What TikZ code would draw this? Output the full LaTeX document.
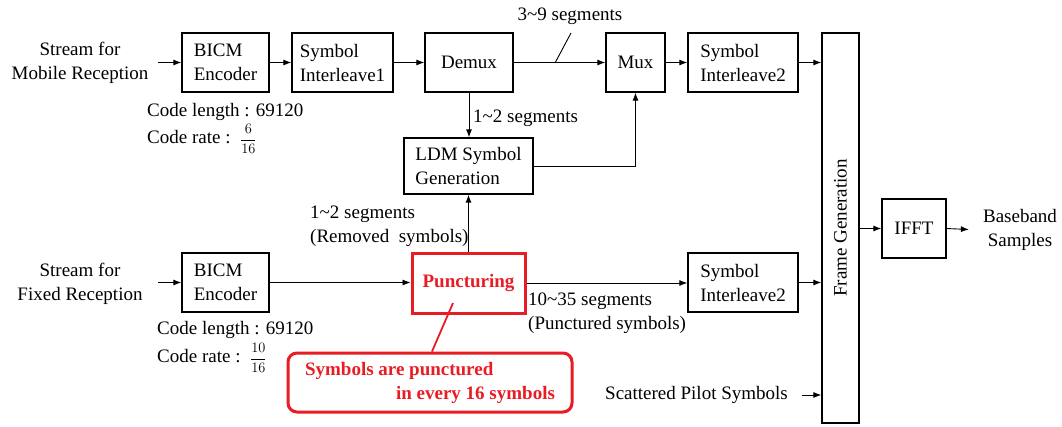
\documentclass[tikz,border=0pt]{standalone}
\usepackage{fontspec}
\setmainfont{Liberation Serif}
\usetikzlibrary{arrows.meta,calc}
\definecolor{hl}{RGB}{232,28,36}
\newcommand{\myfs}{\fontsize{19}{24}\selectfont}
\newcommand{\myfrac}[2]{{\fontsize{15}{15}\selectfont$\displaystyle\frac{#1}{#2}$}}
\begin{document}
\begin{tikzpicture}[x=1pt,y=-1pt,
  every node/.style={font=\myfs, inner sep=0pt},
  box/.style={draw, line width=1.3pt, minimum height=59pt},
  redbox/.style={draw=hl, line width=3pt, text=hl, font=\myfs\bfseries},
  arr/.style={line width=0.9pt, -{Latex[length=8pt,width=6pt]}},
  ln/.style={line width=0.9pt}]
\useasboundingbox (0,0) rectangle (1062,426);
% top row
\node[align=center] (in1) at (80,63) {Stream for\\Mobile Reception};
\node[box, align=left, minimum width=87pt] (bicm1) at (225.5,62.5) {BICM\\Encoder};
\node[box, align=left, minimum width=101pt] (si1) at (342.5,62.5) {Symbol\\Interleave1};
\node[box, minimum width=88pt] (demux) at (469,62.5) {Demux};
\node[box, minimum width=59pt] (mux) at (635.5,62.5) {Mux};
\node[box, align=left, minimum width=110pt] (si2a) at (743,62.5) {Symbol\\Interleave2};
\node[box, minimum width=37pt, minimum height=390pt] (frame) at (840.5,228) {};
\node[rotate=90] (framelbl) at (frame.center) {Frame Generation};
\node[box, minimum width=64pt] (ifft) at (914,228.5) {IFFT};
\node[align=center] (out) at (1020,229.5) {Baseband\\Samples};
\node[box, align=left, minimum width=129pt, minimum height=56pt] (ldm) at (468.5,166) {LDM Symbol\\Generation};
% bottom row
\node[align=center] (in2) at (80,283.5) {Stream for\\Fixed Reception};
\node[box, align=left, minimum width=87pt] (bicm2) at (225.5,282.5) {BICM\\Encoder};
\node[redbox, minimum width=113pt, minimum height=60pt] (punct) at (468.5,283) {Puncturing};
\node[box, align=left, minimum width=110pt] (si2b) at (743,282.5) {Symbol\\Interleave2};
\node[redbox, rounded corners=9pt, minimum width=284pt, minimum height=59pt, align=left] (callout) at (430,382.5) {Symbols are punctured\\\hspace*{91pt}in every 16 symbols};
% labels
\node[anchor=west] (cl1) at (147,112) {Code length : 69120};
\node[anchor=west] (cr1) at (147,139) {Code rate :\hspace{0.5em}\myfrac{6}{16}};
\node[anchor=west] (cl2) at (157,330) {Code length : 69120};
\node[anchor=west] (cr2) at (157,358) {Code rate :\hspace{0.5em}\myfrac{10}{16}};
\node[anchor=west] (lbl12) at (473,118) {1\textasciitilde2 segments};
\node[anchor=west, align=left] (lblrem) at (310,226.5) {1\textasciitilde2 segments\\(Removed\ \ symbols)};
\node[anchor=west, align=left] (lblpun) at (528,313) {10\textasciitilde35 segments\\(Punctured symbols)};
\node (lbl39) at (570,16) {3\textasciitilde9 segments};
\node[anchor=east] (pilot) at (788,395) {Scattered Pilot Symbols};
% connectors
\draw[arr] ([xshift=-23pt]bicm1.west) -- (bicm1.west);
\draw[arr] (bicm1) -- (si1);
\draw[arr] (si1) -- (demux);
\draw[arr] (demux) -- (mux);
\coordinate (sl1) at (555,63);
\coordinate (sl2) at (571,33);
\draw[ln] (sl1) -- (sl2);
\draw[arr] (mux) -- (si2a);
\draw[arr] (si2a.east) -- (si2a.east -| frame.west);
\draw[arr] (demux.south) -- (demux.south |- ldm.north);
\draw[arr] (ldm.east) -| (mux.south);
\draw[arr] (punct.north) -- (punct.north |- ldm.south);
\draw[arr] ([xshift=-23pt]bicm2.west) -- (bicm2.west);
\draw[arr] (bicm2.east) -- (bicm2.east -| punct.west);
\draw[arr] (punct.east) -- (punct.east -| si2b.west);
\draw[arr] (si2b.east) -- (si2b.east -| frame.west);
\draw[arr] (frame.east |- ifft.west) -- (ifft.west);
\draw[arr] (ifft.east) -- ([xshift=-14pt]out.west);
\draw[arr] ([xshift=14pt]pilot.east) -- (pilot.east -| frame.west);
\draw[hl, line width=1.8pt] ($(punct.center)+(-15.5,20)$) -- ([xshift=2pt]callout.north);
\end{tikzpicture}
\end{document}
